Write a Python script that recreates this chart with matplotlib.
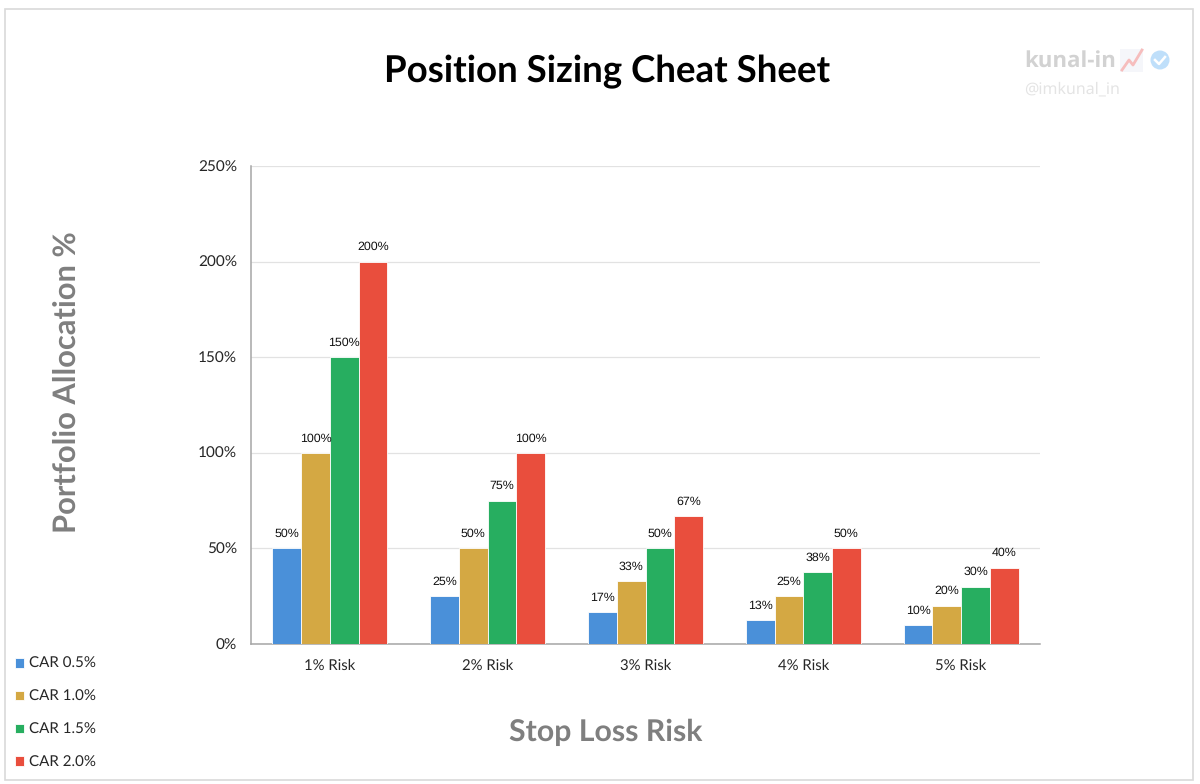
import numpy as np
import matplotlib
matplotlib.use("Agg")
import matplotlib.pyplot as plt
from matplotlib.patches import Rectangle, Circle

# values
risks = ['1% Risk', '2% Risk', '3% Risk', '4% Risk', '5% Risk']
car_05 = [50, 25, 16.5, 12.5, 10]
car_10 = [100, 50, 33, 25, 20]
car_15 = [150, 75, 50, 37.5, 30]
car_20 = [200, 100, 66.7, 50, 40]
labels_05 = ['50%', '25%', '17%', '13%', '10%']
labels_10 = ['100%', '50%', '33%', '25%', '20%']
labels_15 = ['150%', '75%', '50%', '38%', '30%']
labels_20 = ['200%', '100%', '67%', '50%', '40%']
series_names = ['CAR 0.5%', 'CAR 1.0%', 'CAR 1.5%', 'CAR 2.0%']
colors = ['#4A90D9', '#D4A843', '#27AE60', '#E94E3D']
y_ticks = [0, 50, 100, 150, 200, 250]

W, H = 1200, 784
plt.rcParams['text.hinting'] = 'no_hinting'
fig = plt.figure(figsize=(12, 7.84), dpi=100, facecolor='white')

# overlay in pixel coordinates for the frame, titles and watermark
bg = fig.add_axes([0, 0, 1, 1])
bg.set_xlim(0, W)
bg.set_ylim(H, 0)
bg.axis('off')
bg.add_patch(Rectangle((5, 9), 1188, 771, fill=False, edgecolor='#D9D9D9', lw=1.2))

bg.text(607, 72, 'Position Sizing Cheat Sheet', fontsize=26.4, fontweight='bold',
        family='Lato', ha='center', va='center', color='black')
bg.text(606, 732, 'Stop Loss Risk', fontsize=21.8, fontweight='bold',
        family='Lato', ha='center', va='center', color='#7F7F7F')
bg.text(67, 382, 'Portfolio Allocation %', fontsize=22.2, fontweight='bold', rotation=90,
        family='Lato', ha='center', va='center', color='#7F7F7F')

# watermark
bg.text(1024, 61, 'kunal-in', fontsize=16, fontweight='bold', family='Open Sans',
        ha='left', va='center', color='#D2D2D2')
bg.add_patch(Rectangle((1120, 49), 23, 23, facecolor='#F5F6FA', edgecolor='none'))
bg.plot([1122, 1129, 1133, 1142], [70, 60, 65, 50], color='#F6BDBD', lw=2)
bg.add_patch(Circle((1160, 60), 9.5, facecolor='#BFDFFA', edgecolor='none'))
bg.plot([1155, 1159, 1165], [60, 64, 57], color='white', lw=1.8)
bg.text(1024, 89, '@imkunal_in', fontsize=11.5, family='Noto Sans',
        ha='left', va='center', color='#E4E4E4')

# plot area
ax_l, ax_r, ax_t, ax_b = 251, 1040, 166, 644
ax = fig.add_axes([ax_l / W, 1 - ax_b / H, (ax_r - ax_l) / W, (ax_b - ax_t) / H])
ax.patch.set_alpha(0)

x = np.arange(len(risks))
bar_w = 0.182
series = [car_05, car_10, car_15, car_20]
texts = [labels_05, labels_10, labels_15, labels_20]
handles = []
for i, (vals, labs) in enumerate(zip(series, texts)):
    pos = x + (i - 1.5) * bar_w
    bars = ax.bar(pos, vals, bar_w, color=colors[i], edgecolor='white', linewidth=0.6,
                  label=series_names[i], zorder=3)
    handles.append(bars)
    for xp, v, s in zip(pos, vals, labs):
        ax.annotate(s, (xp, v), xytext=(0, 14.5 * 72 / 100), textcoords='offset points',
                    ha='center', va='center', fontsize=8.9, family='Liberation Sans',
                    color='#111111', zorder=4)

ax.set_xlim(-0.5, 4.5)
ax.set_ylim(0, 250)
ax.set_xticks(x)
ax.set_xticklabels(risks, fontsize=10.7, family='Lato', color='#262626')
ax.set_yticks(y_ticks)
ax.set_yticklabels([f'{t}%' for t in y_ticks], fontsize=11.1, family='Lato', color='#262626')
ax.tick_params(axis='both', length=0)
ax.tick_params(axis='x', pad=10.5)
ax.tick_params(axis='y', pad=10)
ax.grid(axis='y', color='#E2E2E2', lw=0.9, zorder=0)
ax.set_axisbelow(True)
for s in ['top', 'right']:
    ax.spines[s].set_visible(False)
for s in ['left', 'bottom']:
    ax.spines[s].set_color('#A6A6A6')
    ax.spines[s].set_linewidth(1.1)

leg = fig.legend(handles=handles, labels=series_names, loc='lower left',
                 bbox_to_anchor=(15 / W, 1 - 769 / H), frameon=False, ncol=1,
                 prop={'family': 'Lato', 'size': 10.9}, labelcolor='#262626',
                 handlelength=0.6, handleheight=0.6, handletextpad=0.33, labelspacing=1.26,
                 borderpad=0, borderaxespad=0)

fig.savefig('out.png', dpi=100)
